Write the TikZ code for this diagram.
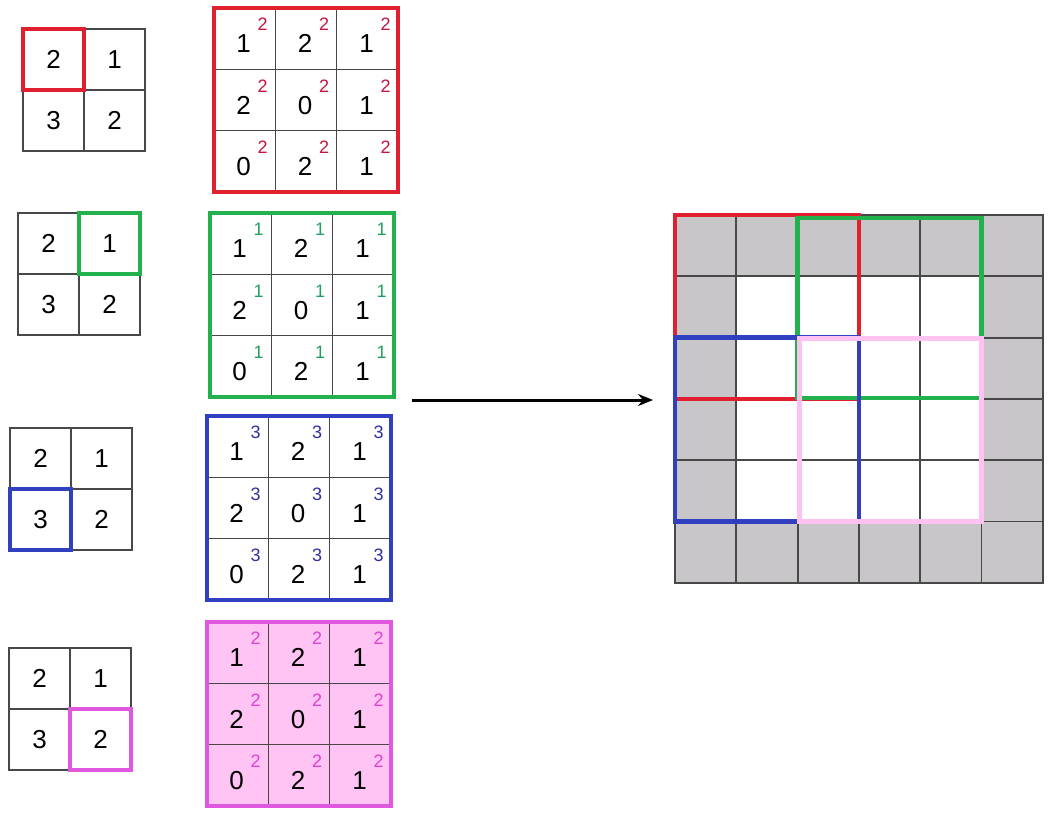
\documentclass[tikz,border=0pt]{standalone}
\usepackage{fontspec}
\setmainfont{Liberation Sans}
\usetikzlibrary{arrows.meta}
\definecolor{cred}{HTML}{E0202E}
\definecolor{cgreen}{HTML}{22B14C}
\definecolor{cblue}{HTML}{3040C0}
\definecolor{cpinkb}{HTML}{E058E0}
\definecolor{cpinkf}{HTML}{FFC4F4}
\definecolor{cpinkl}{HTML}{FFC0F2}
\definecolor{sred}{HTML}{C8143C}
\definecolor{sgreen}{HTML}{20A060}
\definecolor{sblue}{HTML}{3030A0}
\definecolor{spink}{HTML}{E040D0}
\definecolor{cgray}{HTML}{C8C6C8}
\definecolor{gline}{HTML}{484848}
\tikzset{
  scell/.style={draw=gline,line width=1.5pt,minimum size=61pt,inner sep=0pt,outer sep=0pt,font=\fontsize{26}{26}\selectfont},
  kcell/.style={draw=gline,line width=1.3pt,minimum size=61.4pt,inner sep=0pt,outer sep=0pt},
  bcell/.style={draw=gline,line width=1.8pt,minimum size=61.3pt,inner sep=0pt,outer sep=0pt},
  digit/.style={inner sep=0pt,font=\fontsize{26}{26}\selectfont},
  supn/.style={inner sep=0pt,font=\fontsize{18}{18}\selectfont},
  hl/.style={line width=3.8pt,line join=miter},
  bhl/.style={line width=4.8pt,line join=miter},
  arr/.style={-{Stealth[length=15pt,width=12pt]},line width=3pt,black}
}
\begin{document}
\begin{tikzpicture}[x=1pt,y=-1pt]
\useasboundingbox (0,0) rectangle (1059,820);
\fill[white] (0,0) rectangle (1059,820);
% small 2x2 grids
\foreach \gx/\gy/\hx/\hy/\col/\g in {23/29/0/0/cred/a, 18/213/1/0/cgreen/b, 10/428/0/1/cblue/c, 9/648/1/1/cpinkb/d}{
  \foreach \c/\r/\v in {0/0/2,1/0/1,0/1/3,1/1/2}{
    \node[scell] (s\g\c\r) at ({\gx+30.5+61*\c},{\gy+30.5+61*\r}) {\v};
  }
  \draw[hl,\col] (s\g\hx\hy.north west) rectangle (s\g\hx\hy.south east);
}
% 3x3 kernels
\foreach \kx/\ky/\col/\sup/\g/\fil/\sc in {214/8/cred/2/a/white/sred, 210/213/cgreen/1/b/white/sgreen, 207/416/cblue/3/c/white/sblue, 207/622/cpinkb/2/d/cpinkf/spink}{
  \foreach \c/\r/\v in {0/0/1,1/0/2,2/0/1,0/1/2,1/1/0,2/1/1,0/2/0,1/2/2,2/2/1}{
    \node[kcell,fill=\fil] (k\g\c\r) at ({\kx+30.7+61.4*\c},{\ky+30.7+61.4*\r}) {};
    \node[digit] (kd\g\c\r) at ([xshift=-1pt,yshift=-5pt]k\g\c\r.center) {\v};
    \node[supn,text=\sc] (ks\g\c\r) at ([xshift=18pt,yshift=14pt]k\g\c\r.center) {\sup};
  }
  \draw[hl,\col] (k\g00.north west) rectangle (k\g22.south east);
}
% padded 6x6 grid
\foreach \c in {0,...,5}{
  \foreach \r in {0,...,5}{
    \pgfmathtruncatemacro\ring{(\c==0)||(\c==5)||(\r==0)||(\r==5)}
    \ifnum\ring=1 \def\fc{cgray}\else\def\fc{white}\fi
    \node[bcell,fill=\fc] (b\c\r) at ({675+30.65+61.3*\c},{215+30.65+61.3*\r}) {};
  }
}
\draw[bhl,cred] (b00.north west) rectangle (b22.south east);
\draw[bhl,cgreen] ([yshift=-3pt]b20.north west) rectangle ([yshift=1pt]b42.south east);
\draw[bhl,cblue] (b02.north west) rectangle (b24.south east);
\draw[bhl,cpinkl] ([xshift=2pt,yshift=-1pt]b22.north west) rectangle (b44.south east);
% arrow
\coordinate (arrS) at (412,400);
\coordinate (arrE) at (653,400);
\draw[arr] (arrS) -- (arrE);
\end{tikzpicture}
\end{document}
